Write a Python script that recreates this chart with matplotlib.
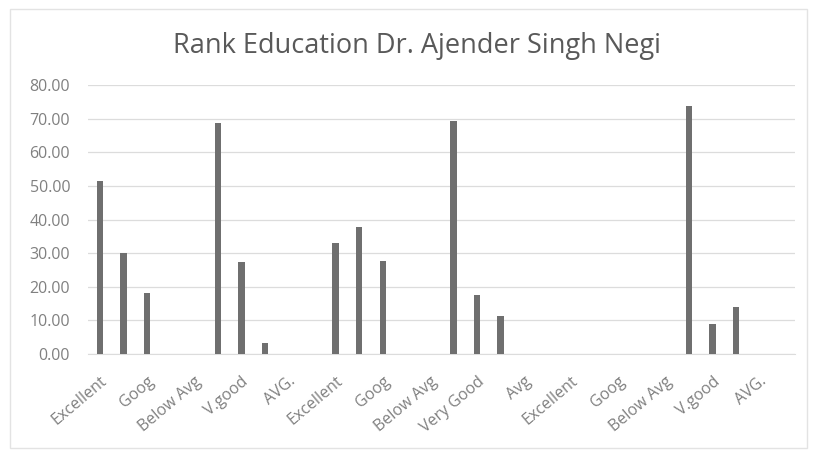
import numpy as np
import matplotlib
matplotlib.use("Agg")
import matplotlib.pyplot as plt
from matplotlib.patches import Rectangle

# 30 categories, Excel only shows every second label
tick_labels = ["Excellent", "Goog", "Below Avg", "V.good", "AVG.",
               "Excellent", "Goog", "Below Avg", "Very Good", "Avg",
               "Excellent", "Goog", "Below Avg", "V.good", "AVG."]
values = [51.5, 30.0, 18.2, 0, 0,
          68.6, 27.3, 3.4, 0, 0,
          32.9, 37.9, 27.8, 0, 0,
          69.3, 17.5, 11.3, 0, 0,
          0, 0, 0, 0, 0,
          73.9, 8.8, 13.9, 0, 0]

plt.rcParams['font.family'] = ['Open Sans', 'DejaVu Sans']

fig = plt.figure(figsize=(8.17, 4.55), dpi=100)
ax = fig.add_axes([0.108, 0.222, 0.865, 0.591])

x = np.arange(len(values))
ax.bar(x, values, width=0.27, color='#6f6f6f', zorder=3)

ax.set_xlim(-0.5, len(values) - 0.5)
ax.set_ylim(0, 80)
ax.set_yticks(np.arange(0, 81, 10))
ax.set_yticklabels([f"{v:.2f}" for v in np.arange(0, 81, 10)])
ax.set_xticks(x[::2])
ax.set_xticklabels(tick_labels, rotation=40, ha='right', rotation_mode='anchor')

ax.grid(axis='y', color='#dcdcdc', lw=0.9, zorder=0)
for s in ['top', 'right', 'left']:
    ax.spines[s].set_visible(False)
ax.spines['bottom'].set_color('#dcdcdc')
ax.tick_params(axis='both', length=0, colors='#808080', labelsize=11.5)
ax.tick_params(axis='y', pad=13)
ax.tick_params(axis='x', pad=14)

fig.text(0.51, 0.9, "Rank Education Dr. Ajender Singh Negi", ha='center',
         va='center', fontsize=19.5, color='#595959')

fig.patches.append(Rectangle((0.012, 0.015), 0.976, 0.965, transform=fig.transFigure,
                             fill=False, edgecolor='#e3e3e3', lw=1))

fig.savefig("out.png", dpi=100)
